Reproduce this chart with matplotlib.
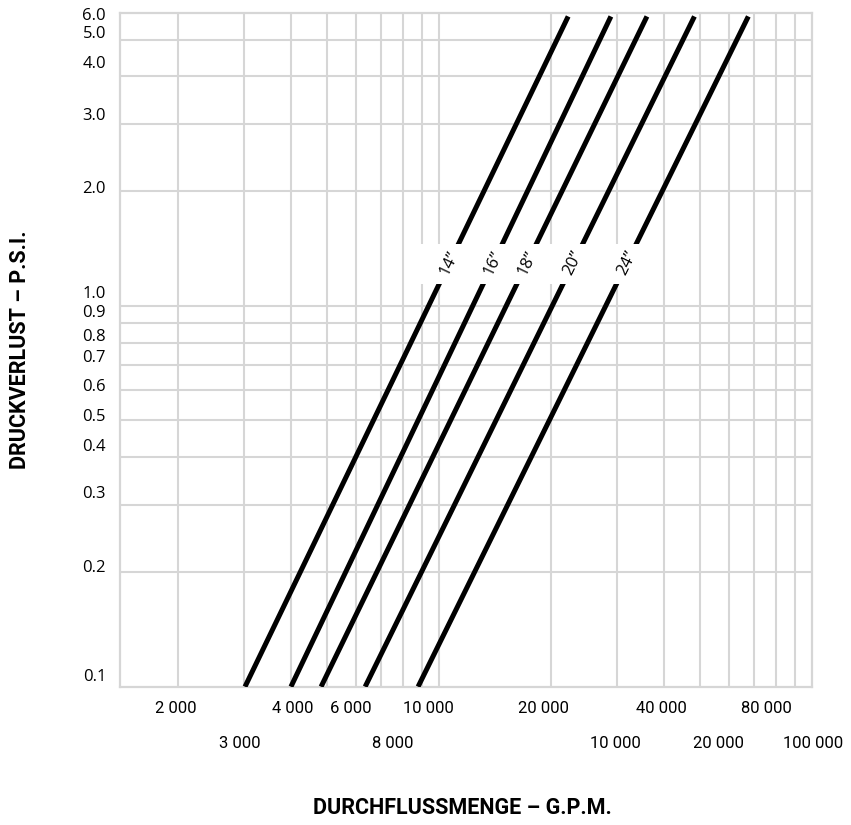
import numpy as np
import matplotlib
matplotlib.use("Agg")
import matplotlib.pyplot as plt
from matplotlib.ticker import NullLocator
import matplotlib.transforms as mtransforms

# pipe sizes and the end points of each pressure-loss line
pipe_sizes = ['14”', '16”', '18”', '20”', '24”']
flow_low = [3020, 4010, 4830, 6340, 8790]
flow_high = [22200, 28900, 36100, 48400, 67500]
psi_low = 0.1
psi_high = 5.75

# grid values
x_grid = [2000, 3000, 4000, 5000, 6000, 7000, 8000, 9000,
          10000, 20000, 30000, 40000, 50000, 60000, 70000, 80000, 90000]
y_grid = [0.2, 0.3, 0.4, 0.5, 0.6, 0.7, 0.8, 0.9, 1.0, 2.0, 3.0, 4.0, 5.0]

# tick labels as printed on the original (two staggered rows)
x_labels_row1 = ['2 000', '4 000', '6 000', '10 000', '20 000', '40 000', '80 000']
x_pos_row1 = [1970, 4050, 5810, 9370, 19100, 39400, 75300]
x_labels_row2 = ['3 000', '8 000', '10 000', '20 000', '100 000']
x_pos_row2 = [2930, 7530, 29700, 56300, 100800]

y_labels = ['6.0', '5.0', '4.0', '3.0', '2.0', '1.0', '0.9', '0.8', '0.7',
            '0.6', '0.5', '0.4', '0.3', '0.2', '0.1']
y_label_pos = [5.76, 5.16, 4.31, 3.15, 2.02, 1.073, 0.957, 0.828, 0.729,
               0.612, 0.510, 0.426, 0.320, 0.205, 0.106]

label_psi = 1.294
band_x = (8600, 35000)
band_y = (1.14, 1.452)

narrow = ['Roboto', 'DejaVu Sans']
body = ['Open Sans', 'DejaVu Sans']

W, H = 851, 825
fig = plt.figure(figsize=(W / 100, H / 100), dpi=100)
ax = fig.add_axes([120 / W, 1 - 686.7 / H, 692 / W, 673.4 / H])
ax.set_xscale('log')
ax.set_yscale('log')
ax.set_xlim(1396, 100000)
ax.set_ylim(0.1, 5.86)
for axis in (ax.xaxis, ax.yaxis):
    axis.set_major_locator(NullLocator())
    axis.set_minor_locator(NullLocator())
ax.tick_params(which='both', length=0, labelbottom=False, labelleft=False)

grid_col = '#d6d6d6'
for s in ax.spines.values():
    s.set_color(grid_col)
    s.set_linewidth(1.6)
for v in x_grid:
    ax.axvline(v, color=grid_col, lw=1.5, zorder=1)
for v in y_grid:
    ax.axhline(v, color=grid_col, lw=1.5, zorder=1)

# pressure loss lines
for lo, hi in zip(flow_low, flow_high):
    ax.plot([lo, hi], [psi_low, psi_high], color='black', lw=3.6,
            solid_capstyle='butt', zorder=3)

# white band where the size labels sit
ax.fill_between(band_x, band_y[0], band_y[1], color='white', lw=0, zorder=4)

for name, lo, hi in zip(pipe_sizes, flow_low, flow_high):
    t = np.log(label_psi / psi_low) / np.log(psi_high / psi_low)
    xl = lo * (hi / lo) ** t
    p0 = ax.transData.transform((lo, psi_low))
    p1 = ax.transData.transform((hi, psi_high))
    ang = np.degrees(np.arctan2(p1[1] - p0[1], p1[0] - p0[0]))
    ax.text(xl, label_psi, name, rotation=ang, rotation_mode='anchor',
            ha='center', va='center', fontsize=12, family=body, zorder=5)

tx = mtransforms.blended_transform_factory(ax.transData, ax.transAxes)
for lab, x in zip(x_labels_row1, x_pos_row1):
    ax.text(x, -0.0328, lab, transform=tx, ha='center', va='center',
            fontsize=12, family=narrow, clip_on=False)
for lab, x in zip(x_labels_row2, x_pos_row2):
    ax.text(x, -0.084, lab, transform=tx, ha='center', va='center',
            fontsize=12, family=narrow, clip_on=False)

ty = mtransforms.blended_transform_factory(ax.transAxes, ax.transData)
for lab, y in zip(y_labels, y_label_pos):
    ax.text(-0.0202, y, lab, transform=ty, ha='right', va='center',
            fontsize=12, family=body, clip_on=False)

fig.text(462 / W, 1 - 808 / H, 'DURCHFLUSSMENGE – G.P.M.', ha='center', va='center',
         fontsize=15.5, fontweight='bold', family=narrow)
fig.text(20 / W, 1 - 350 / H, 'DRUCKVERLUST – P.S.I.', ha='center', va='center',
         rotation=90, fontsize=15.5, fontweight='bold', family=narrow)

fig.savefig('out.png', dpi=100)
